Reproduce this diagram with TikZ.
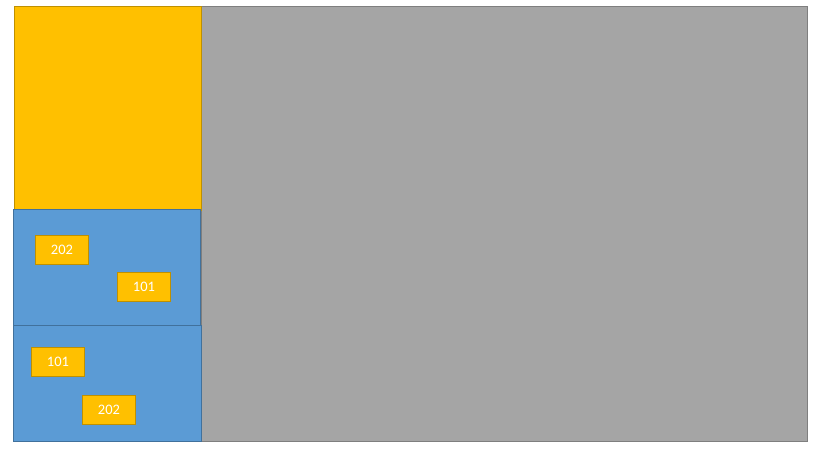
\documentclass[tikz,border=0pt]{standalone}
\usepackage{fontspec}
\setmainfont{Carlito}
\usetikzlibrary{positioning}
\definecolor{gold}{HTML}{FFC000}
\definecolor{goldline}{HTML}{BF9000}
\definecolor{sky}{HTML}{5B9BD5}
\definecolor{skyline}{HTML}{41719C}
\definecolor{slate}{HTML}{A5A5A5}
\definecolor{slateline}{HTML}{7F7F7F}
\tikzset{
  panel/.style={rectangle, inner sep=0pt, outer sep=0pt, line width=0.8pt, anchor=north west},
  tag/.style={rectangle, draw=goldline, fill=gold, line width=0.8pt, minimum width=53pt, minimum height=29pt,
              inner sep=0pt, text=white, font=\fontsize{14.5}{14.5}\selectfont}
}

\begin{document}
\begin{tikzpicture}[x=1pt, y=-1pt]
  \useasboundingbox (0,0) rectangle (828,456);
  \fill[white] (0,0) rectangle (828,456);
  % gray cover on the right
  \node[panel, draw=slateline, fill=slate, minimum width=606pt, minimum height=435pt] (cover) at (201,6) {};
  % left column
  \node[panel, draw=goldline, fill=gold, minimum width=187pt, minimum height=204pt] (head) at (14,6) {};
  \node[panel, draw=skyline, fill=sky, minimum width=187pt, minimum height=116pt] (upper) at (13,209) {};
  \node[panel, draw=skyline, fill=sky, minimum width=188pt, minimum height=116pt] (lower) at (13,325) {};
  \foreach \n/\x/\y/\t in {a/62/250/202, b/144/287/101, c/58/362/101, d/109/410/202}{
    \node[tag] (t\n) at (\x,\y) {\t};
  }
\end{tikzpicture}
\end{document}
